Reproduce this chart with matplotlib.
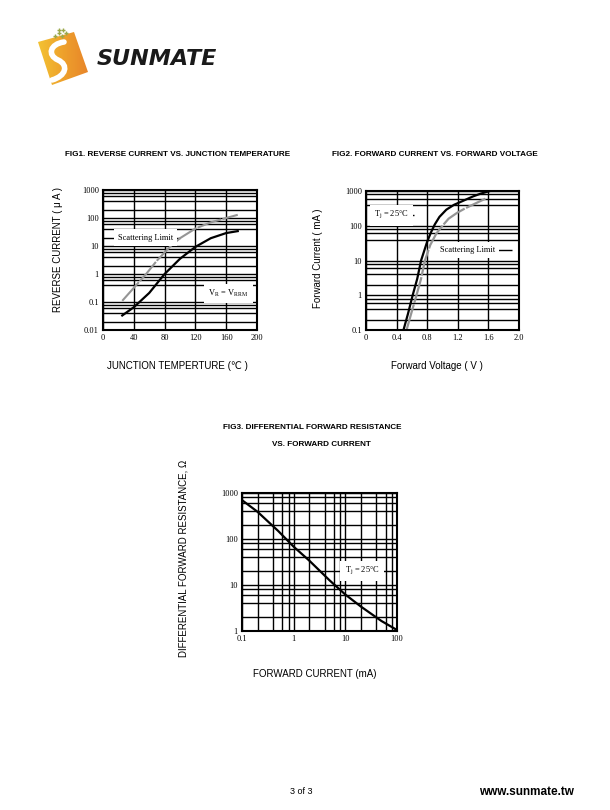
import numpy as np
import matplotlib
matplotlib.use("Agg")
import matplotlib.pyplot as plt
from matplotlib.patches import Polygon
from matplotlib.path import Path
from matplotlib.patches import PathPatch

# ---------------- data ----------------
fig1_temp_vrrm = [25, 40, 60, 80, 100, 120, 140, 160, 175]
fig1_ir_vrrm = [0.033, 0.065, 0.21, 1.0, 3.5, 9.3, 19, 29, 34]
fig1_temp_scat = [25, 40, 56, 70, 88, 100, 120, 140, 160, 175]
fig1_ir_scat = [0.11, 0.32, 1.0, 3.0, 10, 19, 42, 70, 100, 130]
fig1_xticks = [0, 40, 80, 120, 160, 200]
fig1_yticks = [0.01, 0.1, 1, 10, 100, 1000]
fig1_ylabels = ["0.01", "0.1", "1", "10", "100", "1000"]

fig2_v_typ = [0.49, 0.55, 0.61, 0.67, 0.72, 0.80, 0.85, 0.90, 0.96, 1.05, 1.15, 1.25, 1.40, 1.50, 1.62]
fig2_i_typ = [0.1, 0.3, 1, 3, 10, 35, 65, 110, 180, 290, 400, 500, 700, 840, 1000]
fig2_v_scat = [0.53, 0.60, 0.66, 0.72, 0.77, 0.84, 0.92, 1.00, 1.08, 1.19, 1.30, 1.45, 1.56]
fig2_i_scat = [0.1, 0.35, 1, 3, 10, 28, 60, 100, 160, 235, 320, 460, 600]
fig2_xticks = [0, 0.4, 0.8, 1.2, 1.6, 2.0]
fig2_xlabels = ["0", "0.4", "0.8", "1.2", "1.6", "2.0"]
fig2_yticks = [0.1, 1, 10, 100, 1000]
fig2_ylabels = ["0.1", "1", "10", "100", "1000"]

fig3_if = [0.1, 0.2, 0.5, 1, 2, 5, 10, 20, 50, 100]
fig3_rd = [700, 390, 150, 68, 34, 12.5, 6.2, 3.4, 1.65, 1.05]
fig3_xticks = [0.1, 1, 10, 100]
fig3_xlabels = ["0.1", "1", "10", "100"]
fig3_yticks = [1, 10, 100, 1000]
fig3_ylabels = ["1", "10", "100", "1000"]

minor_mult = [2, 4, 6, 8]

# ---------------- figure ----------------
W, H = 610, 810
fig = plt.figure(figsize=(W / 100, H / 100), dpi=100)
fig.patch.set_facecolor("white")

SERIF = ["Liberation Serif", "DejaVu Serif"]
SANS = ["Liberation Sans", "DejaVu Sans"]
NARROW = ["Liberation Sans Narrow", "Liberation Sans", "DejaVu Sans"]

GRID_LW = 1.0
GRAY = "#959595"


def px_axes(x0, y0, x1, y1):
    return fig.add_axes([x0 / W, 1 - y1 / H, (x1 - x0) / W, (y1 - y0) / H])


def style_axes(ax):
    for s in ax.spines.values():
        s.set_linewidth(1.5)
        s.set_color("black")
        s.set_zorder(5)
    ax.tick_params(which="both", length=0, pad=3, labelsize=6)
    for lab in ax.get_xticklabels() + ax.get_yticklabels():
        lab.set_family(SERIF)
    ax.minorticks_off()


def log_minor_lines(ax, lo, hi, skip=(), axis="y"):
    d = lo
    while d < hi:
        for m in minor_mult:
            v = d * m
            if v < hi and not any(abs(v - s) / s < 1e-6 for s in skip):
                if axis == "y":
                    ax.axhline(v, color="black", lw=GRID_LW, zorder=1)
                else:
                    ax.axvline(v, color="black", lw=GRID_LW, zorder=1)
        d *= 10


def boxed_label(ax, x, y, text, seg=None):
    if seg is not None:
        ax.plot(seg, [y, y], color="black", lw=GRID_LW, zorder=2, solid_capstyle="butt")
    ax.text(x, y, text, ha="center", va="center", fontsize=6, family=SERIF, zorder=4,
            bbox=dict(boxstyle="square,pad=0.5", fc="white", ec="none"))


# ---------------- FIG 1 ----------------
ax1 = px_axes(103, 190, 257, 330)
ax1.set_yscale("log")
ax1.set_xlim(0, 200)
ax1.set_ylim(0.01, 1000)
for v in fig1_xticks:
    ax1.axvline(v, color="black", lw=GRID_LW, zorder=1)
for v in fig1_yticks:
    ax1.axhline(v, color="black", lw=GRID_LW, zorder=1)
log_minor_lines(ax1, 0.01, 1000, skip=(20, 0.2))
ax1.plot(fig1_temp_scat, fig1_ir_scat, color=GRAY, lw=1.5, zorder=3, dashes=(12, 0.7))
ax1.plot(fig1_temp_vrrm, fig1_ir_vrrm, color="black", lw=1.6, zorder=3)
boxed_label(ax1, 55, 20, "Scattering Limit", seg=[0, 100])
boxed_label(ax1, 163, 0.2, r"V$_\mathregular{R}$ = V$_\mathregular{RRM}$", seg=[132, 194])
ax1.set_xticks(fig1_xticks)
ax1.set_xticklabels([str(t) for t in fig1_xticks])
ax1.set_yticks(fig1_yticks)
ax1.set_yticklabels(fig1_ylabels)
style_axes(ax1)
fig.text(178 / W, 1 - 155 / H, "FIG1. REVERSE CURRENT VS. JUNCTION TEMPERATURE",
         ha="center", va="center", fontsize=5.9, fontweight="bold", family=NARROW)
fig.text(58 / W, 1 - 250 / H, "REVERSE CURRENT ( \u03bc A )", rotation=90,
         ha="center", va="center", fontsize=7, family=SANS)
fig.text(177 / W, 1 - 366 / H, "JUNCTION TEMPERTURE (\u2103 )",
         ha="center", va="center", fontsize=7, family=SANS)

# ---------------- FIG 2 ----------------
ax2 = px_axes(366, 191, 519, 330)
ax2.set_yscale("log")
ax2.set_xlim(0, 2.0)
ax2.set_ylim(0.1, 1000)
for v in fig2_xticks:
    ax2.axvline(v, color="black", lw=GRID_LW, zorder=1)
for v in fig2_yticks:
    ax2.axhline(v, color="black", lw=GRID_LW, zorder=1)
log_minor_lines(ax2, 0.1, 1000, skip=(20, 200))
ax2.plot(fig2_v_scat, fig2_i_scat, color=GRAY, lw=1.6, zorder=3, dashes=(12, 0.7))
ax2.plot(fig2_v_typ, fig2_i_typ, color="black", lw=1.6, zorder=3)
boxed_label(ax2, 0.33, 200, r"T$_\mathregular{j}$ = 25°C", seg=[0.08, 0.63])
boxed_label(ax2, 1.33, 20, "Scattering Limit", seg=[0.915, 1.91])
ax2.set_xticks(fig2_xticks)
ax2.set_xticklabels(fig2_xlabels)
ax2.set_yticks(fig2_yticks)
ax2.set_yticklabels(fig2_ylabels)
style_axes(ax2)
fig.text(435 / W, 1 - 155 / H, "FIG2. FORWARD CURRENT VS. FORWARD VOLTAGE",
         ha="center", va="center", fontsize=5.9, fontweight="bold", family=NARROW)
fig.text(318 / W, 1 - 258 / H, "Forward Current ( mA )", rotation=90,
         ha="center", va="center", fontsize=7, family=SANS)
fig.text(437 / W, 1 - 366 / H, "Forward Voltage ( V )",
         ha="center", va="center", fontsize=7, family=SANS)

# ---------------- FIG 3 ----------------
ax3 = px_axes(242, 493, 397, 631)
ax3.set_xscale("log")
ax3.set_yscale("log")
ax3.set_xlim(0.1, 100)
ax3.set_ylim(1, 1000)
for v in fig3_xticks:
    ax3.axvline(v, color="black", lw=GRID_LW, zorder=1)
for v in fig3_yticks:
    ax3.axhline(v, color="black", lw=GRID_LW, zorder=1)
log_minor_lines(ax3, 0.1, 100, axis="x")
log_minor_lines(ax3, 1, 1000, axis="y")
ax3.plot(fig3_if, fig3_rd, color="black", lw=1.6, zorder=3)
boxed_label(ax3, 21, 20, r"T$_\mathregular{j}$ = 25°C")
ax3.set_xticks(fig3_xticks)
ax3.set_xticklabels(fig3_xlabels)
ax3.set_yticks(fig3_yticks)
ax3.set_yticklabels(fig3_ylabels)
style_axes(ax3)
fig.text(312 / W, 1 - 428 / H, "FIG3. DIFFERENTIAL FORWARD RESISTANCE",
         ha="center", va="center", fontsize=5.9, fontweight="bold", family=NARROW)
fig.text(321 / W, 1 - 445 / H, "VS. FORWARD CURRENT",
         ha="center", va="center", fontsize=5.9, fontweight="bold", family=NARROW)
fig.text(183 / W, 1 - 558 / H, "DIFFERENTIAL FORWARD RESISTANCE, \u03a9", rotation=90,
         ha="center", va="center", fontsize=7, family=SANS)
fig.text(315 / W, 1 - 674 / H, "FORWARD CURRENT (mA)",
         ha="center", va="center", fontsize=7, family=SANS)

# ---------------- footer ----------------
fig.text(301 / W, 1 - 792 / H, "3 of 3", ha="center", va="center", fontsize=6.5, family=SANS)
fig.text(526 / W, 1 - 792 / H, "www.sunmate.tw", ha="center", va="center",
         fontsize=8.5, fontweight="bold", family=SANS)

# ---------------- logo ----------------
axl = px_axes(25, 20, 225, 100)
axl.set_xlim(25, 225)
axl.set_ylim(100, 20)
axl.axis("off")
sq = [(38, 42), (74, 32), (88, 72), (52, 85)]
grad = np.linspace(0, 1, 64)[None, :] * np.ones((64, 1))
img = axl.imshow(grad, extent=(38, 88, 85, 32), cmap=matplotlib.colors.LinearSegmentedColormap.from_list(
    "lg", ["#f3c233", "#eea12c", "#e8862a"]), aspect="auto", zorder=1)
poly = Polygon(sq, closed=True, transform=axl.transData, fc="none", ec="none")
axl.add_patch(poly)
img.set_clip_path(poly)
verts = [(64, 42), (50, 44), (47, 55), (58, 60), (69, 65), (66, 76), (52, 80)]
codes = [Path.MOVETO, Path.CURVE4, Path.CURVE4, Path.CURVE4, Path.CURVE4, Path.CURVE4, Path.CURVE4]
axl.add_patch(PathPatch(Path(verts, codes), fc="none", ec="white", lw=4, capstyle="round", zorder=2))
for (cx, cy) in [(55, 36), (59, 33), (63, 30), (59, 30), (66, 33), (62, 36)]:
    axl.plot(cx, cy, marker="+", color="#9aa84a", ms=3, mew=1, zorder=3)
axl.text(157, 59, "SUNMATE", ha="center", va="center", fontsize=16, fontweight="heavy",
         style="italic", family=["DejaVu Sans"], color="#1a1a1a", zorder=3)

fig.savefig("out.png", dpi=100, facecolor="white")
